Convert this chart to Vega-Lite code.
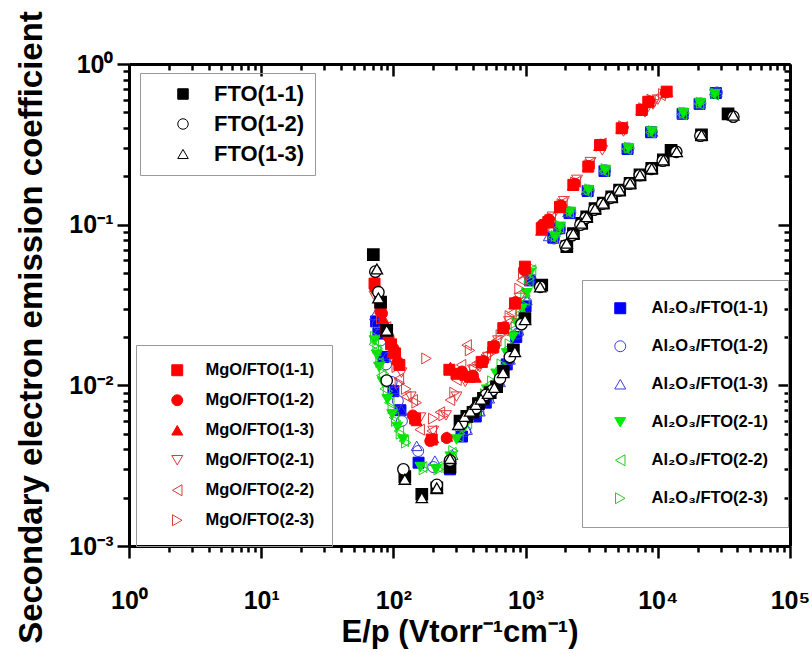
{
  "$schema": "https://vega.github.io/schema/vega-lite/v6.json",
  "width": 661,
  "height": 482,
  "autosize": {"type": "none"},
  "padding": {"left": 129, "top": 64, "right": 22, "bottom": 107},
  "background": "white",
  "config": {"view": {"stroke": null}, "font": "Liberation Sans"},
  "datasets": {
    "fto": [
      {"s":"FTO(1-1)","x":70.5,"y":0.065},{"s":"FTO(1-1)","x":80,"y":0.033},{"s":"FTO(1-1)","x":89,"y":0.022},{"s":"FTO(1-1)","x":122,"y":0.0027},{"s":"FTO(1-1)","x":164,"y":0.0021},{"s":"FTO(1-1)","x":213,"y":0.0023},{"s":"FTO(1-1)","x":268,"y":0.0031},{"s":"FTO(1-1)","x":319,"y":0.006},{"s":"FTO(1-1)","x":359,"y":0.0064},{"s":"FTO(1-1)","x":400,"y":0.0068},{"s":"FTO(1-1)","x":440,"y":0.0077},{"s":"FTO(1-1)","x":480,"y":0.0083},{"s":"FTO(1-1)","x":540,"y":0.009},{"s":"FTO(1-1)","x":604,"y":0.0098},{"s":"FTO(1-1)","x":678,"y":0.0122},{"s":"FTO(1-1)","x":808,"y":0.0166},{"s":"FTO(1-1)","x":988,"y":0.026},{"s":"FTO(1-1)","x":1325,"y":0.042},{"s":"FTO(1-1)","x":2050,"y":0.073},{"s":"FTO(1-1)","x":2300,"y":0.088},{"s":"FTO(1-1)","x":2655,"y":0.102},{"s":"FTO(1-1)","x":2900,"y":0.112},{"s":"FTO(1-1)","x":3350,"y":0.126},{"s":"FTO(1-1)","x":3870,"y":0.136},{"s":"FTO(1-1)","x":4480,"y":0.149},{"s":"FTO(1-1)","x":5140,"y":0.164},{"s":"FTO(1-1)","x":6170,"y":0.181},{"s":"FTO(1-1)","x":7330,"y":0.204},{"s":"FTO(1-1)","x":9000,"y":0.224},{"s":"FTO(1-1)","x":11010,"y":0.253},{"s":"FTO(1-1)","x":12600,"y":0.29},{"s":"FTO(1-1)","x":21400,"y":0.362},{"s":"FTO(1-1)","x":34000,"y":0.49},
      {"s":"FTO(1-2)","x":73,"y":0.051},{"s":"FTO(1-2)","x":77,"y":0.038},{"s":"FTO(1-2)","x":89,"y":0.0107},{"s":"FTO(1-2)","x":119,"y":0.003},{"s":"FTO(1-2)","x":213,"y":0.0024},{"s":"FTO(1-2)","x":268,"y":0.0034},{"s":"FTO(1-2)","x":330,"y":0.0058},{"s":"FTO(1-2)","x":420,"y":0.0072},{"s":"FTO(1-2)","x":500,"y":0.0087},{"s":"FTO(1-2)","x":560,"y":0.0093},{"s":"FTO(1-2)","x":640,"y":0.011},{"s":"FTO(1-2)","x":760,"y":0.015},{"s":"FTO(1-2)","x":930,"y":0.024},{"s":"FTO(1-2)","x":1290,"y":0.041},{"s":"FTO(1-2)","x":2000,"y":0.074},{"s":"FTO(1-2)","x":2250,"y":0.086},{"s":"FTO(1-2)","x":2600,"y":0.1},{"s":"FTO(1-2)","x":2850,"y":0.11},{"s":"FTO(1-2)","x":3300,"y":0.124},{"s":"FTO(1-2)","x":3800,"y":0.135},{"s":"FTO(1-2)","x":4400,"y":0.147},{"s":"FTO(1-2)","x":5100,"y":0.163},{"s":"FTO(1-2)","x":6100,"y":0.18},{"s":"FTO(1-2)","x":7300,"y":0.203},{"s":"FTO(1-2)","x":8900,"y":0.222},{"s":"FTO(1-2)","x":10900,"y":0.25},{"s":"FTO(1-2)","x":13800,"y":0.284},{"s":"FTO(1-2)","x":21000,"y":0.358},{"s":"FTO(1-2)","x":37300,"y":0.47},
      {"s":"FTO(1-3)","x":75,"y":0.053},{"s":"FTO(1-3)","x":77,"y":0.035},{"s":"FTO(1-3)","x":89,"y":0.022},{"s":"FTO(1-3)","x":122,"y":0.0026},{"s":"FTO(1-3)","x":164,"y":0.002},{"s":"FTO(1-3)","x":213,"y":0.0023},{"s":"FTO(1-3)","x":268,"y":0.0035},{"s":"FTO(1-3)","x":310,"y":0.0057},{"s":"FTO(1-3)","x":345,"y":0.0064},{"s":"FTO(1-3)","x":380,"y":0.0069},{"s":"FTO(1-3)","x":420,"y":0.0076},{"s":"FTO(1-3)","x":460,"y":0.0082},{"s":"FTO(1-3)","x":520,"y":0.0089},{"s":"FTO(1-3)","x":580,"y":0.0097},{"s":"FTO(1-3)","x":675,"y":0.012},{"s":"FTO(1-3)","x":830,"y":0.0162},{"s":"FTO(1-3)","x":990,"y":0.0256},{"s":"FTO(1-3)","x":1290,"y":0.041},{"s":"FTO(1-3)","x":2046,"y":0.0766},{"s":"FTO(1-3)","x":2297,"y":0.088},{"s":"FTO(1-3)","x":2655,"y":0.102},{"s":"FTO(1-3)","x":2900,"y":0.112},{"s":"FTO(1-3)","x":3350,"y":0.126},{"s":"FTO(1-3)","x":3870,"y":0.136},{"s":"FTO(1-3)","x":4480,"y":0.149},{"s":"FTO(1-3)","x":5140,"y":0.164},{"s":"FTO(1-3)","x":6170,"y":0.181},{"s":"FTO(1-3)","x":7330,"y":0.204},{"s":"FTO(1-3)","x":9000,"y":0.224},{"s":"FTO(1-3)","x":11010,"y":0.253},{"s":"FTO(1-3)","x":13900,"y":0.285},{"s":"FTO(1-3)","x":21400,"y":0.362},{"s":"FTO(1-3)","x":37270,"y":0.48}
    ],
    "mgo": [
      {"s":"MgO/FTO(2-1)","x":72,"y":0.036},{"s":"MgO/FTO(2-1)","x":80,"y":0.028},{"s":"MgO/FTO(2-1)","x":90,"y":0.021},{"s":"MgO/FTO(2-1)","x":100,"y":0.016},{"s":"MgO/FTO(2-1)","x":115,"y":0.012},{"s":"MgO/FTO(2-1)","x":135,"y":0.0085},{"s":"MgO/FTO(2-1)","x":160,"y":0.0063},{"s":"MgO/FTO(2-1)","x":200,"y":0.0052},{"s":"MgO/FTO(2-1)","x":250,"y":0.0065},{"s":"MgO/FTO(2-1)","x":300,"y":0.0085},{"s":"MgO/FTO(2-1)","x":350,"y":0.0105},{"s":"MgO/FTO(2-1)","x":400,"y":0.0125},{"s":"MgO/FTO(2-1)","x":450,"y":0.013},{"s":"MgO/FTO(2-1)","x":520,"y":0.015},{"s":"MgO/FTO(2-1)","x":620,"y":0.019},{"s":"MgO/FTO(2-1)","x":750,"y":0.025},{"s":"MgO/FTO(2-1)","x":900,"y":0.035},{"s":"MgO/FTO(2-1)","x":1000,"y":0.048},{"s":"MgO/FTO(2-1)","x":1400,"y":0.1},{"s":"MgO/FTO(2-1)","x":1600,"y":0.112},{"s":"MgO/FTO(2-1)","x":1950,"y":0.14},{"s":"MgO/FTO(2-1)","x":2450,"y":0.19},{"s":"MgO/FTO(2-1)","x":3100,"y":0.245},{"s":"MgO/FTO(2-1)","x":3800,"y":0.29},{"s":"MgO/FTO(2-1)","x":5500,"y":0.38},{"s":"MgO/FTO(2-1)","x":8000,"y":0.5},{"s":"MgO/FTO(2-1)","x":9200,"y":0.56},{"s":"MgO/FTO(2-1)","x":10000,"y":0.6},
      {"s":"MgO/FTO(2-2)","x":72,"y":0.039},{"s":"MgO/FTO(2-2)","x":80,"y":0.03},{"s":"MgO/FTO(2-2)","x":88,"y":0.023},{"s":"MgO/FTO(2-2)","x":98,"y":0.016},{"s":"MgO/FTO(2-2)","x":110,"y":0.011},{"s":"MgO/FTO(2-2)","x":125,"y":0.0085},{"s":"MgO/FTO(2-2)","x":140,"y":0.0081},{"s":"MgO/FTO(2-2)","x":158,"y":0.0053},{"s":"MgO/FTO(2-2)","x":195,"y":0.0052},{"s":"MgO/FTO(2-2)","x":225,"y":0.0068},{"s":"MgO/FTO(2-2)","x":268,"y":0.0081},{"s":"MgO/FTO(2-2)","x":300,"y":0.0108},{"s":"MgO/FTO(2-2)","x":325,"y":0.0134},{"s":"MgO/FTO(2-2)","x":358,"y":0.0178},{"s":"MgO/FTO(2-2)","x":424,"y":0.0137},{"s":"MgO/FTO(2-2)","x":500,"y":0.0155},{"s":"MgO/FTO(2-2)","x":600,"y":0.019},{"s":"MgO/FTO(2-2)","x":680,"y":0.022},{"s":"MgO/FTO(2-2)","x":780,"y":0.028},{"s":"MgO/FTO(2-2)","x":930,"y":0.045},{"s":"MgO/FTO(2-2)","x":1380,"y":0.098},{"s":"MgO/FTO(2-2)","x":1550,"y":0.11},{"s":"MgO/FTO(2-2)","x":1900,"y":0.137},{"s":"MgO/FTO(2-2)","x":2400,"y":0.185},{"s":"MgO/FTO(2-2)","x":3050,"y":0.24},{"s":"MgO/FTO(2-2)","x":3750,"y":0.32},{"s":"MgO/FTO(2-2)","x":5450,"y":0.405},{"s":"MgO/FTO(2-2)","x":7700,"y":0.525},{"s":"MgO/FTO(2-2)","x":8800,"y":0.59},{"s":"MgO/FTO(2-2)","x":10500,"y":0.64},
      {"s":"MgO/FTO(2-3)","x":74,"y":0.04},{"s":"MgO/FTO(2-3)","x":81,"y":0.026},{"s":"MgO/FTO(2-3)","x":91,"y":0.021},{"s":"MgO/FTO(2-3)","x":106,"y":0.013},{"s":"MgO/FTO(2-3)","x":112,"y":0.0103},{"s":"MgO/FTO(2-3)","x":125,"y":0.0095},{"s":"MgO/FTO(2-3)","x":150,"y":0.0078},{"s":"MgO/FTO(2-3)","x":178,"y":0.0147},{"s":"MgO/FTO(2-3)","x":200,"y":0.0062},{"s":"MgO/FTO(2-3)","x":240,"y":0.0065},{"s":"MgO/FTO(2-3)","x":290,"y":0.009},{"s":"MgO/FTO(2-3)","x":340,"y":0.012},{"s":"MgO/FTO(2-3)","x":380,"y":0.0165},{"s":"MgO/FTO(2-3)","x":410,"y":0.0125},{"s":"MgO/FTO(2-3)","x":470,"y":0.0135},{"s":"MgO/FTO(2-3)","x":560,"y":0.016},{"s":"MgO/FTO(2-3)","x":650,"y":0.0205},{"s":"MgO/FTO(2-3)","x":760,"y":0.027},{"s":"MgO/FTO(2-3)","x":900,"y":0.04},{"s":"MgO/FTO(2-3)","x":960,"y":0.05},{"s":"MgO/FTO(2-3)","x":1350,"y":0.096},{"s":"MgO/FTO(2-3)","x":1520,"y":0.107},{"s":"MgO/FTO(2-3)","x":1880,"y":0.134},{"s":"MgO/FTO(2-3)","x":2380,"y":0.183},{"s":"MgO/FTO(2-3)","x":3050,"y":0.235},{"s":"MgO/FTO(2-3)","x":3700,"y":0.31},{"s":"MgO/FTO(2-3)","x":5500,"y":0.41},{"s":"MgO/FTO(2-3)","x":7800,"y":0.53},{"s":"MgO/FTO(2-3)","x":9000,"y":0.6},{"s":"MgO/FTO(2-3)","x":11000,"y":0.65},
      {"s":"MgO/FTO(1-1)","x":72,"y":0.043},{"s":"MgO/FTO(1-1)","x":80,"y":0.03},{"s":"MgO/FTO(1-1)","x":88,"y":0.022},{"s":"MgO/FTO(1-1)","x":96,"y":0.018},{"s":"MgO/FTO(1-1)","x":103,"y":0.0158},{"s":"MgO/FTO(1-1)","x":111,"y":0.0134},{"s":"MgO/FTO(1-1)","x":146,"y":0.0062},{"s":"MgO/FTO(1-1)","x":195,"y":0.0046},{"s":"MgO/FTO(1-1)","x":265,"y":0.0125},{"s":"MgO/FTO(1-1)","x":300,"y":0.0118},{"s":"MgO/FTO(1-1)","x":380,"y":0.0113},{"s":"MgO/FTO(1-1)","x":465,"y":0.014},{"s":"MgO/FTO(1-1)","x":570,"y":0.0173},{"s":"MgO/FTO(1-1)","x":678,"y":0.0227},{"s":"MgO/FTO(1-1)","x":831,"y":0.0324},{"s":"MgO/FTO(1-1)","x":988,"y":0.0548},{"s":"MgO/FTO(1-1)","x":1325,"y":0.095},{"s":"MgO/FTO(1-1)","x":1486,"y":0.104},{"s":"MgO/FTO(1-1)","x":1820,"y":0.129},{"s":"MgO/FTO(1-1)","x":2297,"y":0.177},{"s":"MgO/FTO(1-1)","x":2980,"y":0.23},{"s":"MgO/FTO(1-1)","x":3655,"y":0.313},{"s":"MgO/FTO(1-1)","x":5330,"y":0.398},{"s":"MgO/FTO(1-1)","x":7550,"y":0.517},{"s":"MgO/FTO(1-1)","x":8470,"y":0.582},{"s":"MgO/FTO(1-1)","x":11670,"y":0.673},
      {"s":"MgO/FTO(1-2)","x":73,"y":0.04},{"s":"MgO/FTO(1-2)","x":82,"y":0.028},{"s":"MgO/FTO(1-2)","x":92,"y":0.02},{"s":"MgO/FTO(1-2)","x":100,"y":0.017},{"s":"MgO/FTO(1-2)","x":108,"y":0.014},{"s":"MgO/FTO(1-2)","x":140,"y":0.0065},{"s":"MgO/FTO(1-2)","x":190,"y":0.0045},{"s":"MgO/FTO(1-2)","x":253,"y":0.0047},{"s":"MgO/FTO(1-2)","x":330,"y":0.0122},{"s":"MgO/FTO(1-2)","x":400,"y":0.0115},{"s":"MgO/FTO(1-2)","x":480,"y":0.0142},{"s":"MgO/FTO(1-2)","x":580,"y":0.0176},{"s":"MgO/FTO(1-2)","x":690,"y":0.023},{"s":"MgO/FTO(1-2)","x":840,"y":0.033},{"s":"MgO/FTO(1-2)","x":980,"y":0.052},{"s":"MgO/FTO(1-2)","x":1340,"y":0.1},{"s":"MgO/FTO(1-2)","x":1500,"y":0.108},{"s":"MgO/FTO(1-2)","x":1850,"y":0.132},{"s":"MgO/FTO(1-2)","x":2350,"y":0.18},{"s":"MgO/FTO(1-2)","x":3000,"y":0.232},{"s":"MgO/FTO(1-2)","x":3700,"y":0.315},{"s":"MgO/FTO(1-2)","x":5400,"y":0.4},{"s":"MgO/FTO(1-2)","x":7600,"y":0.52},{"s":"MgO/FTO(1-2)","x":8600,"y":0.585},{"s":"MgO/FTO(1-2)","x":11500,"y":0.665},
      {"s":"MgO/FTO(1-3)","x":74,"y":0.041},{"s":"MgO/FTO(1-3)","x":84,"y":0.026},{"s":"MgO/FTO(1-3)","x":98,"y":0.016},{"s":"MgO/FTO(1-3)","x":106,"y":0.0145},{"s":"MgO/FTO(1-3)","x":150,"y":0.006},{"s":"MgO/FTO(1-3)","x":200,"y":0.0047},{"s":"MgO/FTO(1-3)","x":255,"y":0.0048},{"s":"MgO/FTO(1-3)","x":270,"y":0.013},{"s":"MgO/FTO(1-3)","x":350,"y":0.0115},{"s":"MgO/FTO(1-3)","x":420,"y":0.0112},{"s":"MgO/FTO(1-3)","x":470,"y":0.0139},{"s":"MgO/FTO(1-3)","x":560,"y":0.017},{"s":"MgO/FTO(1-3)","x":670,"y":0.0225},{"s":"MgO/FTO(1-3)","x":820,"y":0.032},{"s":"MgO/FTO(1-3)","x":995,"y":0.053},{"s":"MgO/FTO(1-3)","x":1310,"y":0.092},{"s":"MgO/FTO(1-3)","x":1470,"y":0.102},{"s":"MgO/FTO(1-3)","x":1800,"y":0.127},{"s":"MgO/FTO(1-3)","x":2280,"y":0.175},{"s":"MgO/FTO(1-3)","x":2950,"y":0.228},{"s":"MgO/FTO(1-3)","x":3600,"y":0.31},{"s":"MgO/FTO(1-3)","x":5300,"y":0.396},{"s":"MgO/FTO(1-3)","x":7500,"y":0.515},{"s":"MgO/FTO(1-3)","x":8400,"y":0.58},{"s":"MgO/FTO(1-3)","x":11800,"y":0.67}
    ],
    "al": [
      {"s":"Al₂O₃/FTO(1-1)","x":74,"y":0.025},{"s":"Al₂O₃/FTO(1-1)","x":77,"y":0.021},{"s":"Al₂O₃/FTO(1-1)","x":84,"y":0.015},{"s":"Al₂O₃/FTO(1-1)","x":100,"y":0.0092},{"s":"Al₂O₃/FTO(1-1)","x":113,"y":0.007},{"s":"Al₂O₃/FTO(1-1)","x":155,"y":0.0033},{"s":"Al₂O₃/FTO(1-1)","x":268,"y":0.003},{"s":"Al₂O₃/FTO(1-1)","x":330,"y":0.0048},{"s":"Al₂O₃/FTO(1-1)","x":420,"y":0.0064},{"s":"Al₂O₃/FTO(1-1)","x":500,"y":0.0078},{"s":"Al₂O₃/FTO(1-1)","x":600,"y":0.0098},{"s":"Al₂O₃/FTO(1-1)","x":720,"y":0.0135},{"s":"Al₂O₃/FTO(1-1)","x":850,"y":0.02},{"s":"Al₂O₃/FTO(1-1)","x":1000,"y":0.031},{"s":"Al₂O₃/FTO(1-1)","x":1080,"y":0.045},{"s":"Al₂O₃/FTO(1-1)","x":1620,"y":0.083},{"s":"Al₂O₃/FTO(1-1)","x":1800,"y":0.095},{"s":"Al₂O₃/FTO(1-1)","x":2150,"y":0.118},{"s":"Al₂O₃/FTO(1-1)","x":2950,"y":0.162},{"s":"Al₂O₃/FTO(1-1)","x":3950,"y":0.216},{"s":"Al₂O₃/FTO(1-1)","x":5900,"y":0.296},{"s":"Al₂O₃/FTO(1-1)","x":8900,"y":0.376},{"s":"Al₂O₃/FTO(1-1)","x":15400,"y":0.49},{"s":"Al₂O₃/FTO(1-1)","x":20700,"y":0.565},{"s":"Al₂O₃/FTO(1-1)","x":27500,"y":0.66},
      {"s":"Al₂O₃/FTO(1-2)","x":76,"y":0.024},{"s":"Al₂O₃/FTO(1-2)","x":80,"y":0.019},{"s":"Al₂O₃/FTO(1-2)","x":88,"y":0.0135},{"s":"Al₂O₃/FTO(1-2)","x":97,"y":0.0105},{"s":"Al₂O₃/FTO(1-2)","x":108,"y":0.008},{"s":"Al₂O₃/FTO(1-2)","x":116,"y":0.006},{"s":"Al₂O₃/FTO(1-2)","x":154,"y":0.0039},{"s":"Al₂O₃/FTO(1-2)","x":200,"y":0.0031},{"s":"Al₂O₃/FTO(1-2)","x":270,"y":0.0033},{"s":"Al₂O₃/FTO(1-2)","x":350,"y":0.0052},{"s":"Al₂O₃/FTO(1-2)","x":440,"y":0.0068},{"s":"Al₂O₃/FTO(1-2)","x":520,"y":0.0082},{"s":"Al₂O₃/FTO(1-2)","x":620,"y":0.0102},{"s":"Al₂O₃/FTO(1-2)","x":740,"y":0.014},{"s":"Al₂O₃/FTO(1-2)","x":870,"y":0.021},{"s":"Al₂O₃/FTO(1-2)","x":1010,"y":0.033},{"s":"Al₂O₃/FTO(1-2)","x":1090,"y":0.046},{"s":"Al₂O₃/FTO(1-2)","x":1640,"y":0.082},{"s":"Al₂O₃/FTO(1-2)","x":1820,"y":0.094},{"s":"Al₂O₃/FTO(1-2)","x":2180,"y":0.119},{"s":"Al₂O₃/FTO(1-2)","x":3000,"y":0.163},{"s":"Al₂O₃/FTO(1-2)","x":4000,"y":0.218},{"s":"Al₂O₃/FTO(1-2)","x":6000,"y":0.298},{"s":"Al₂O₃/FTO(1-2)","x":9000,"y":0.378},{"s":"Al₂O₃/FTO(1-2)","x":15600,"y":0.492},{"s":"Al₂O₃/FTO(1-2)","x":21000,"y":0.568},{"s":"Al₂O₃/FTO(1-2)","x":28000,"y":0.665},
      {"s":"Al₂O₃/FTO(1-3)","x":72.7,"y":0.0274},{"s":"Al₂O₃/FTO(1-3)","x":78,"y":0.022},{"s":"Al₂O₃/FTO(1-3)","x":88,"y":0.015},{"s":"Al₂O₃/FTO(1-3)","x":100,"y":0.0095},{"s":"Al₂O₃/FTO(1-3)","x":115,"y":0.007},{"s":"Al₂O₃/FTO(1-3)","x":150,"y":0.0042},{"s":"Al₂O₃/FTO(1-3)","x":206,"y":0.0034},{"s":"Al₂O₃/FTO(1-3)","x":280,"y":0.0037},{"s":"Al₂O₃/FTO(1-3)","x":360,"y":0.0053},{"s":"Al₂O₃/FTO(1-3)","x":450,"y":0.0069},{"s":"Al₂O₃/FTO(1-3)","x":530,"y":0.0083},{"s":"Al₂O₃/FTO(1-3)","x":640,"y":0.0105},{"s":"Al₂O₃/FTO(1-3)","x":760,"y":0.0145},{"s":"Al₂O₃/FTO(1-3)","x":880,"y":0.022},{"s":"Al₂O₃/FTO(1-3)","x":1020,"y":0.034},{"s":"Al₂O₃/FTO(1-3)","x":1100,"y":0.047},{"s":"Al₂O₃/FTO(1-3)","x":1500,"y":0.085},{"s":"Al₂O₃/FTO(1-3)","x":1780,"y":0.096},{"s":"Al₂O₃/FTO(1-3)","x":2100,"y":0.12},{"s":"Al₂O₃/FTO(1-3)","x":2900,"y":0.165},{"s":"Al₂O₃/FTO(1-3)","x":3950,"y":0.22},{"s":"Al₂O₃/FTO(1-3)","x":5950,"y":0.3},{"s":"Al₂O₃/FTO(1-3)","x":9100,"y":0.38},{"s":"Al₂O₃/FTO(1-3)","x":15500,"y":0.49},{"s":"Al₂O₃/FTO(1-3)","x":20800,"y":0.57},{"s":"Al₂O₃/FTO(1-3)","x":27900,"y":0.673},
      {"s":"Al₂O₃/FTO(2-1)","x":72,"y":0.019},{"s":"Al₂O₃/FTO(2-1)","x":75,"y":0.0155},{"s":"Al₂O₃/FTO(2-1)","x":78,"y":0.013},{"s":"Al₂O₃/FTO(2-1)","x":83,"y":0.0105},{"s":"Al₂O₃/FTO(2-1)","x":90,"y":0.0082},{"s":"Al₂O₃/FTO(2-1)","x":98,"y":0.0066},{"s":"Al₂O₃/FTO(2-1)","x":107,"y":0.0055},{"s":"Al₂O₃/FTO(2-1)","x":118,"y":0.0046},{"s":"Al₂O₃/FTO(2-1)","x":160,"y":0.0031},{"s":"Al₂O₃/FTO(2-1)","x":210,"y":0.003},{"s":"Al₂O₃/FTO(2-1)","x":270,"y":0.0036},{"s":"Al₂O₃/FTO(2-1)","x":300,"y":0.0046},{"s":"Al₂O₃/FTO(2-1)","x":345,"y":0.0055},{"s":"Al₂O₃/FTO(2-1)","x":400,"y":0.0066},{"s":"Al₂O₃/FTO(2-1)","x":460,"y":0.0079},{"s":"Al₂O₃/FTO(2-1)","x":510,"y":0.0094},{"s":"Al₂O₃/FTO(2-1)","x":600,"y":0.0118},{"s":"Al₂O₃/FTO(2-1)","x":720,"y":0.0158},{"s":"Al₂O₃/FTO(2-1)","x":800,"y":0.02},{"s":"Al₂O₃/FTO(2-1)","x":860,"y":0.0243},{"s":"Al₂O₃/FTO(2-1)","x":940,"y":0.03},{"s":"Al₂O₃/FTO(2-1)","x":1020,"y":0.0374},{"s":"Al₂O₃/FTO(2-1)","x":1080,"y":0.05},{"s":"Al₂O₃/FTO(2-1)","x":1670,"y":0.084},{"s":"Al₂O₃/FTO(2-1)","x":1820,"y":0.097},{"s":"Al₂O₃/FTO(2-1)","x":2170,"y":0.12},{"s":"Al₂O₃/FTO(2-1)","x":2985,"y":0.164},{"s":"Al₂O₃/FTO(2-1)","x":3990,"y":0.219},{"s":"Al₂O₃/FTO(2-1)","x":5980,"y":0.299},{"s":"Al₂O₃/FTO(2-1)","x":9000,"y":0.379},{"s":"Al₂O₃/FTO(2-1)","x":15600,"y":0.493},{"s":"Al₂O₃/FTO(2-1)","x":20900,"y":0.569},{"s":"Al₂O₃/FTO(2-1)","x":27000,"y":0.65},
      {"s":"Al₂O₃/FTO(2-2)","x":71,"y":0.018},{"s":"Al₂O₃/FTO(2-2)","x":74,"y":0.0165},{"s":"Al₂O₃/FTO(2-2)","x":77,"y":0.0138},{"s":"Al₂O₃/FTO(2-2)","x":81,"y":0.0115},{"s":"Al₂O₃/FTO(2-2)","x":86,"y":0.0095},{"s":"Al₂O₃/FTO(2-2)","x":93,"y":0.0078},{"s":"Al₂O₃/FTO(2-2)","x":101,"y":0.0063},{"s":"Al₂O₃/FTO(2-2)","x":110,"y":0.0052},{"s":"Al₂O₃/FTO(2-2)","x":120,"y":0.0045},{"s":"Al₂O₃/FTO(2-2)","x":165,"y":0.0031},{"s":"Al₂O₃/FTO(2-2)","x":215,"y":0.0031},{"s":"Al₂O₃/FTO(2-2)","x":275,"y":0.0038},{"s":"Al₂O₃/FTO(2-2)","x":310,"y":0.0048},{"s":"Al₂O₃/FTO(2-2)","x":360,"y":0.0058},{"s":"Al₂O₃/FTO(2-2)","x":420,"y":0.007},{"s":"Al₂O₃/FTO(2-2)","x":480,"y":0.0085},{"s":"Al₂O₃/FTO(2-2)","x":540,"y":0.0102},{"s":"Al₂O₃/FTO(2-2)","x":640,"y":0.0128},{"s":"Al₂O₃/FTO(2-2)","x":740,"y":0.017},{"s":"Al₂O₃/FTO(2-2)","x":830,"y":0.0225},{"s":"Al₂O₃/FTO(2-2)","x":900,"y":0.028},{"s":"Al₂O₃/FTO(2-2)","x":980,"y":0.034},{"s":"Al₂O₃/FTO(2-2)","x":1050,"y":0.044},{"s":"Al₂O₃/FTO(2-2)","x":1100,"y":0.052},{"s":"Al₂O₃/FTO(2-2)","x":1600,"y":0.083},{"s":"Al₂O₃/FTO(2-2)","x":1780,"y":0.096},{"s":"Al₂O₃/FTO(2-2)","x":2120,"y":0.119},{"s":"Al₂O₃/FTO(2-2)","x":2900,"y":0.16},{"s":"Al₂O₃/FTO(2-2)","x":3900,"y":0.215},{"s":"Al₂O₃/FTO(2-2)","x":5800,"y":0.295},{"s":"Al₂O₃/FTO(2-2)","x":8800,"y":0.375},{"s":"Al₂O₃/FTO(2-2)","x":15200,"y":0.485},{"s":"Al₂O₃/FTO(2-2)","x":20500,"y":0.565},{"s":"Al₂O₃/FTO(2-2)","x":26500,"y":0.645},
      {"s":"Al₂O₃/FTO(2-3)","x":73,"y":0.02},{"s":"Al₂O₃/FTO(2-3)","x":76,"y":0.017},{"s":"Al₂O₃/FTO(2-3)","x":80,"y":0.014},{"s":"Al₂O₃/FTO(2-3)","x":85,"y":0.0118},{"s":"Al₂O₃/FTO(2-3)","x":91,"y":0.0092},{"s":"Al₂O₃/FTO(2-3)","x":99,"y":0.0072},{"s":"Al₂O₃/FTO(2-3)","x":105,"y":0.006},{"s":"Al₂O₃/FTO(2-3)","x":114,"y":0.005},{"s":"Al₂O₃/FTO(2-3)","x":125,"y":0.0044},{"s":"Al₂O₃/FTO(2-3)","x":170,"y":0.003},{"s":"Al₂O₃/FTO(2-3)","x":220,"y":0.003},{"s":"Al₂O₃/FTO(2-3)","x":285,"y":0.0039},{"s":"Al₂O₃/FTO(2-3)","x":320,"y":0.005},{"s":"Al₂O₃/FTO(2-3)","x":375,"y":0.006},{"s":"Al₂O₃/FTO(2-3)","x":435,"y":0.0073},{"s":"Al₂O₃/FTO(2-3)","x":495,"y":0.0088},{"s":"Al₂O₃/FTO(2-3)","x":560,"y":0.0106},{"s":"Al₂O₃/FTO(2-3)","x":660,"y":0.0135},{"s":"Al₂O₃/FTO(2-3)","x":760,"y":0.018},{"s":"Al₂O₃/FTO(2-3)","x":845,"y":0.023},{"s":"Al₂O₃/FTO(2-3)","x":920,"y":0.029},{"s":"Al₂O₃/FTO(2-3)","x":1000,"y":0.036},{"s":"Al₂O₃/FTO(2-3)","x":1070,"y":0.046},{"s":"Al₂O₃/FTO(2-3)","x":1120,"y":0.054},{"s":"Al₂O₃/FTO(2-3)","x":1700,"y":0.085},{"s":"Al₂O₃/FTO(2-3)","x":1850,"y":0.098},{"s":"Al₂O₃/FTO(2-3)","x":2220,"y":0.122},{"s":"Al₂O₃/FTO(2-3)","x":3050,"y":0.166},{"s":"Al₂O₃/FTO(2-3)","x":4050,"y":0.222},{"s":"Al₂O₃/FTO(2-3)","x":6100,"y":0.302},{"s":"Al₂O₃/FTO(2-3)","x":9200,"y":0.382},{"s":"Al₂O₃/FTO(2-3)","x":15900,"y":0.497},{"s":"Al₂O₃/FTO(2-3)","x":21300,"y":0.574},{"s":"Al₂O₃/FTO(2-3)","x":27500,"y":0.655}
    ]
  },
  "layer": [
    {
      "data": {"name": "al"},
      "mark": {"type": "point", "opacity": 1, "size": 120, "strokeWidth": 1},
      "encoding": {
        "x": {"field": "x", "type": "quantitative", "scale": {"type": "log", "domain": [1, 100000], "nice": false},
          "axis": {"orient": "bottom", "values": [1,2,3,4,5,6,7,8,9,10,20,30,40,50,60,70,80,90,100,200,300,400,500,600,700,800,900,1000,2000,3000,4000,5000,6000,7000,8000,9000,10000,20000,30000,40000,50000,60000,70000,80000,90000,100000],
            "labelExpr": "abs(datum.value/pow(10,round(log(datum.value)/LN10))-1)<1e-6 ? '10' + (round(log(datum.value)/LN10)<0?'⁻':'') + substring('⁰¹²³⁴⁵⁶⁷⁸⁹', abs(round(log(datum.value)/LN10)), abs(round(log(datum.value)/LN10))+1) : ''",
            "labelOverlap": false, "labelFlush": false, "labelBound": false,
            "labelFont": "Liberation Sans", "labelFontSize": 25, "labelFontWeight": "bold", "labelColor": "black", "labelPadding": 30,
            "tickSize": {"condition": {"test": "abs(datum.value/pow(10,round(log(datum.value)/LN10))-1)<1e-6", "value": 12}, "value": 6},
            "tickWidth": 2.5, "tickColor": "black", "domainWidth": 3, "domainColor": "black", "grid": false,
            "title": "E/p (Vtorr⁻¹cm⁻¹)", "titleFont": "Liberation Sans", "titleFontSize": 31, "titleFontWeight": "bold", "titleColor": "black", "titlePadding": 4}},
        "y": {"field": "y", "type": "quantitative", "scale": {"type": "log", "domain": [0.001, 1], "nice": false},
          "axis": {"orient": "left", "values": [0.001,0.002,0.003,0.004,0.005,0.006,0.007,0.008,0.009,0.01,0.02,0.03,0.04,0.05,0.06,0.07,0.08,0.09,0.1,0.2,0.3,0.4,0.5,0.6,0.7,0.8,0.9,1],
            "labelExpr": "abs(datum.value/pow(10,round(log(datum.value)/LN10))-1)<1e-6 ? '10' + (round(log(datum.value)/LN10)<0?'⁻':'') + substring('⁰¹²³⁴⁵⁶⁷⁸⁹', abs(round(log(datum.value)/LN10)), abs(round(log(datum.value)/LN10))+1) : ''",
            "labelOverlap": false, "labelFlush": false, "labelBound": false,
            "labelFont": "Liberation Sans", "labelFontSize": 25, "labelFontWeight": "bold", "labelColor": "black", "labelPadding": 4,
            "tickSize": {"condition": {"test": "abs(datum.value/pow(10,round(log(datum.value)/LN10))-1)<1e-6", "value": 12}, "value": 6},
            "tickWidth": 2.5, "tickColor": "black", "domainWidth": 3, "domainColor": "black", "grid": false,
            "title": "Secondary electron emission coefficient", "titleFont": "Liberation Sans", "titleFontSize": 33, "titleFontWeight": "bold", "titleColor": "black", "titlePadding": 20, "titleY": 263}},
        "shape": {"field": "s", "type": "nominal", "scale": {"domain": ["Al₂O₃/FTO(1-1)","Al₂O₃/FTO(1-2)","Al₂O₃/FTO(1-3)","Al₂O₃/FTO(2-1)","Al₂O₃/FTO(2-2)","Al₂O₃/FTO(2-3)"], "range": ["square","circle","triangle-up","triangle-down","triangle-left","triangle-right"]},
          "legend": {"title": null, "orient": "none", "legendX": 453, "legendY": 216, "padding": 20, "symbolOffset": 10, "labelOffset": 23, "rowPadding": 21, "labelFont": "Liberation Sans", "labelFontSize": 16.5, "labelFontWeight": "bold", "labelColor": "black", "labelLimit": 300, "strokeColor": "#999999", "symbolSize": 120, "symbolStrokeWidth": 1}},
        "stroke": {"field": "s", "type": "nominal", "scale": {"domain": ["Al₂O₃/FTO(1-1)","Al₂O₃/FTO(1-2)","Al₂O₃/FTO(1-3)","Al₂O₃/FTO(2-1)","Al₂O₃/FTO(2-2)","Al₂O₃/FTO(2-3)"], "range": ["#0000ff","#3a3ae0","#3a3ae0","#00ee00","#22cc22","#22cc22"]},
          "legend": {"title": null, "orient": "none", "legendX": 453, "legendY": 216, "padding": 20, "symbolOffset": 10, "labelOffset": 23, "rowPadding": 21, "labelFont": "Liberation Sans", "labelFontSize": 16.5, "labelFontWeight": "bold", "labelColor": "black", "labelLimit": 300, "strokeColor": "#999999", "symbolSize": 120, "symbolStrokeWidth": 1}},
        "fill": {"field": "s", "type": "nominal", "scale": {"domain": ["Al₂O₃/FTO(1-1)","Al₂O₃/FTO(1-2)","Al₂O₃/FTO(1-3)","Al₂O₃/FTO(2-1)","Al₂O₃/FTO(2-2)","Al₂O₃/FTO(2-3)"], "range": ["#0000ff","transparent","transparent","#00ee00","transparent","transparent"]},
          "legend": {"title": null, "orient": "none", "legendX": 453, "legendY": 216, "padding": 20, "symbolOffset": 10, "labelOffset": 23, "rowPadding": 21, "labelFont": "Liberation Sans", "labelFontSize": 16.5, "labelFontWeight": "bold", "labelColor": "black", "labelLimit": 300, "strokeColor": "#999999", "symbolSize": 120, "symbolStrokeWidth": 1}}
      }
    },
    {
      "data": {"name": "mgo"},
      "mark": {"type": "point", "opacity": 1, "size": 120, "strokeWidth": 1},
      "encoding": {
        "x": {"field": "x", "type": "quantitative", "axis": null},
        "y": {"field": "y", "type": "quantitative", "axis": null},
        "shape": {"field": "s", "type": "nominal", "scale": {"domain": ["MgO/FTO(1-1)","MgO/FTO(1-2)","MgO/FTO(1-3)","MgO/FTO(2-1)","MgO/FTO(2-2)","MgO/FTO(2-3)"], "range": ["square","circle","triangle-up","triangle-down","triangle-left","triangle-right"]},
          "legend": {"title": null, "orient": "none", "legendX": 7, "legendY": 281, "padding": 17, "symbolOffset": 16, "labelOffset": 20, "rowPadding": 13, "labelFont": "Liberation Sans", "labelFontSize": 16.5, "labelFontWeight": "bold", "labelColor": "black", "labelLimit": 300, "strokeColor": "#999999", "symbolSize": 120, "symbolStrokeWidth": 1}},
        "stroke": {"field": "s", "type": "nominal", "scale": {"domain": ["MgO/FTO(1-1)","MgO/FTO(1-2)","MgO/FTO(1-3)","MgO/FTO(2-1)","MgO/FTO(2-2)","MgO/FTO(2-3)"], "range": ["#ff0000","#ff0000","#ff0000","#e03a3a","#e03a3a","#e03a3a"]},
          "legend": {"title": null, "orient": "none", "legendX": 7, "legendY": 281, "padding": 17, "symbolOffset": 16, "labelOffset": 20, "rowPadding": 13, "labelFont": "Liberation Sans", "labelFontSize": 16.5, "labelFontWeight": "bold", "labelColor": "black", "labelLimit": 300, "strokeColor": "#999999", "symbolSize": 120, "symbolStrokeWidth": 1}},
        "fill": {"field": "s", "type": "nominal", "scale": {"domain": ["MgO/FTO(1-1)","MgO/FTO(1-2)","MgO/FTO(1-3)","MgO/FTO(2-1)","MgO/FTO(2-2)","MgO/FTO(2-3)"], "range": ["#ff0000","#ff0000","#ff0000","transparent","transparent","transparent"]},
          "legend": {"title": null, "orient": "none", "legendX": 7, "legendY": 281, "padding": 17, "symbolOffset": 16, "labelOffset": 20, "rowPadding": 13, "labelFont": "Liberation Sans", "labelFontSize": 16.5, "labelFontWeight": "bold", "labelColor": "black", "labelLimit": 300, "strokeColor": "#999999", "symbolSize": 120, "symbolStrokeWidth": 1}}
      }
    },
    {
      "data": {"name": "fto"},
      "mark": {"type": "point", "opacity": 1, "size": 130, "strokeWidth": 1.3},
      "encoding": {
        "x": {"field": "x", "type": "quantitative", "axis": null},
        "y": {"field": "y", "type": "quantitative", "axis": null},
        "shape": {"field": "s", "type": "nominal", "scale": {"domain": ["FTO(1-1)","FTO(1-2)","FTO(1-3)"], "range": ["square","circle","triangle-up"]},
          "legend": {"title": null, "orient": "none", "legendX": 11, "legendY": 9, "padding": 10, "symbolOffset": 22, "labelOffset": 20, "rowPadding": 8, "labelFont": "Liberation Sans", "labelFontSize": 22, "labelFontWeight": "bold", "labelColor": "black", "labelLimit": 300, "strokeColor": "#999999", "symbolSize": 110, "symbolStrokeWidth": 1}},
        "stroke": {"field": "s", "type": "nominal", "scale": {"domain": ["FTO(1-1)","FTO(1-2)","FTO(1-3)"], "range": ["black","black","black"]},
          "legend": {"title": null, "orient": "none", "legendX": 11, "legendY": 9, "padding": 10, "symbolOffset": 22, "labelOffset": 20, "rowPadding": 8, "labelFont": "Liberation Sans", "labelFontSize": 22, "labelFontWeight": "bold", "labelColor": "black", "labelLimit": 300, "strokeColor": "#999999", "symbolSize": 110, "symbolStrokeWidth": 1}},
        "fill": {"field": "s", "type": "nominal", "scale": {"domain": ["FTO(1-1)","FTO(1-2)","FTO(1-3)"], "range": ["black","white","white"]},
          "legend": {"title": null, "orient": "none", "legendX": 11, "legendY": 9, "padding": 10, "symbolOffset": 22, "labelOffset": 20, "rowPadding": 8, "labelFont": "Liberation Sans", "labelFontSize": 22, "labelFontWeight": "bold", "labelColor": "black", "labelLimit": 300, "strokeColor": "#999999", "symbolSize": 110, "symbolStrokeWidth": 1}}
      }
    },
    {
      "data": {"name": "fto"},
      "mark": {"type": "point", "opacity": 0},
      "encoding": {
        "x": {"field": "x", "type": "quantitative",
          "axis": {"orient": "top", "values": [1,2,3,4,5,6,7,8,9,10,20,30,40,50,60,70,80,90,100,200,300,400,500,600,700,800,900,1000,2000,3000,4000,5000,6000,7000,8000,9000,10000,20000,30000,40000,50000,60000,70000,80000,90000,100000],
            "labels": false, "title": null, "grid": false,
            "tickSize": {"condition": {"test": "abs(datum.value/pow(10,round(log(datum.value)/LN10))-1)<1e-6", "value": -12}, "value": -6},
            "tickWidth": 2.5, "tickColor": "black", "domainWidth": 3, "domainColor": "black"}},
        "y": {"field": "y", "type": "quantitative",
          "axis": {"orient": "right", "values": [0.001,0.002,0.003,0.004,0.005,0.006,0.007,0.008,0.009,0.01,0.02,0.03,0.04,0.05,0.06,0.07,0.08,0.09,0.1,0.2,0.3,0.4,0.5,0.6,0.7,0.8,0.9,1],
            "labels": false, "title": null, "grid": false,
            "tickSize": {"condition": {"test": "abs(datum.value/pow(10,round(log(datum.value)/LN10))-1)<1e-6", "value": -12}, "value": -6},
            "tickWidth": 2.5, "tickColor": "black", "domainWidth": 3, "domainColor": "black"}}
      }
    }
  ],
  "resolve": {
    "scale": {"shape": "independent", "stroke": "independent", "fill": "independent"},
    "axis": {"x": "independent", "y": "independent"}
  }
}
